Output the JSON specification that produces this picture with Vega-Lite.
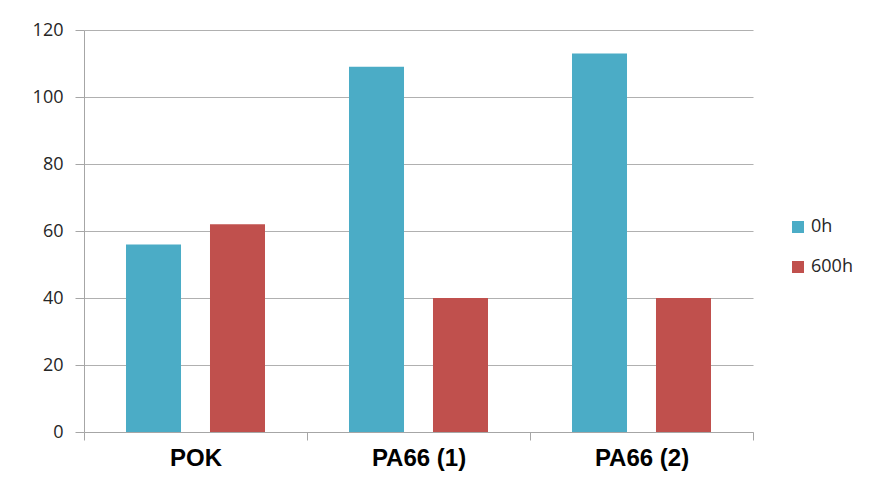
{
  "$schema": "https://vega.github.io/schema/vega-lite/v6.json",
  "width": 669,
  "height": 402,
  "autosize": "none",
  "padding": {"left": 84, "top": 30, "right": 118, "bottom": 50},
  "background": "white",
  "config": {
    "view": {"stroke": null},
    "axis": {"labelFont": "Open Sans", "titleFont": "Open Sans"},
    "legend": {"labelFont": "Open Sans"}
  },
  "data": {
    "values": [
      {"sample": "POK", "time": "0h", "value": 56},
      {"sample": "POK", "time": "600h", "value": 62},
      {"sample": "PA66 (1)", "time": "0h", "value": 109},
      {"sample": "PA66 (1)", "time": "600h", "value": 40},
      {"sample": "PA66 (2)", "time": "0h", "value": 113},
      {"sample": "PA66 (2)", "time": "600h", "value": 40}
    ]
  },
  "mark": {"type": "bar"},
  "encoding": {
    "x": {
      "field": "sample",
      "type": "nominal",
      "sort": ["POK", "PA66 (1)", "PA66 (2)"],
      "scale": {"paddingInner": 0, "paddingOuter": 0},
      "axis": {
        "title": null,
        "labelAngle": 0,
        "labelFont": "Liberation Sans",
        "labelFontWeight": "bold",
        "labelFontSize": 24,
        "labelColor": "#000000",
        "labelPadding": 6,
        "tickBand": "extent",
        "tickSize": 8,
        "tickColor": "#a6a6a6",
        "domainColor": "#a6a6a6",
        "grid": false
      }
    },
    "xOffset": {
      "field": "time",
      "type": "nominal",
      "scale": {"paddingInner": 0.345, "paddingOuter": 0.5}
    },
    "y": {
      "field": "value",
      "type": "quantitative",
      "scale": {"domain": [0, 120]},
      "axis": {
        "title": null,
        "values": [0, 20, 40, 60, 80, 100, 120],
        "labelFontSize": 18,
        "labelColor": "#262626",
        "labelPadding": 12,
        "tickSize": 9,
        "tickColor": "#a6a6a6",
        "domainColor": "#a6a6a6",
        "gridColor": "#b0b0b0",
        "gridWidth": 1.2
      }
    },
    "color": {
      "field": "time",
      "type": "nominal",
      "scale": {"domain": ["0h", "600h"], "range": ["#4BACC6", "#C0504D"]},
      "legend": {
        "title": null,
        "orient": "none",
        "legendX": 705,
        "legendY": 188,
        "padding": 0,
        "symbolType": "square",
        "symbolSize": 144,
        "symbolStrokeWidth": 0,
        "labelFontSize": 18,
        "labelColor": "#262626",
        "labelOffset": 4,
        "rowPadding": 22
      }
    }
  }
}
